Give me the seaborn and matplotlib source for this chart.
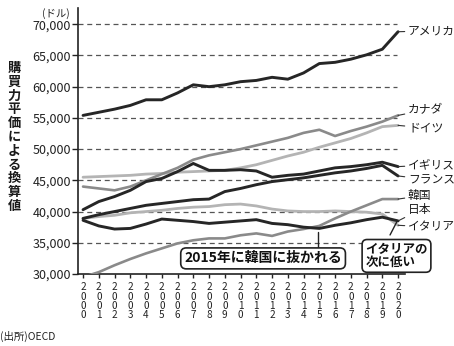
import matplotlib
matplotlib.use("Agg")
import matplotlib.pyplot as plt
import seaborn as sns
import pandas as pd

# Average annual wages, USD at purchasing power parity
years = list(range(2000, 2021))
usa = [55400, 55900, 56400, 57000, 57900, 57900, 59000, 60300, 60000, 60300, 60800,
       61000, 61500, 61200, 62200, 63700, 63900, 64400, 65100, 66000, 68800]
canada = [44000, 43700, 43400, 44000, 45000, 46000, 47000, 48300, 49000, 49500, 50000,
          50600, 51200, 51800, 52600, 53100, 52100, 52900, 53600, 54400, 55400]
germany = [45500, 45600, 45700, 45800, 46000, 46100, 46300, 46400, 46500, 46600, 47000,
           47500, 48200, 48900, 49500, 50300, 51000, 51700, 52600, 53600, 53800]
uk = [40300, 41600, 42400, 43400, 44800, 45300, 46400, 47700, 46600, 46600, 46700,
      46500, 45500, 45800, 46000, 46500, 47000, 47200, 47500, 47900, 47200]
france = [38900, 39500, 40000, 40500, 41000, 41300, 41600, 41900, 42000, 43200, 43700,
          44300, 44800, 45100, 45400, 45800, 46200, 46500, 46900, 47400, 45700]
korea = [29500, 30300, 31400, 32400, 33300, 34100, 34900, 35400, 35700, 35700, 36200,
         36500, 36100, 36800, 37200, 37700, 38900, 40000, 41000, 42000, 42000]
japan = [38600, 37700, 37200, 37300, 38000, 38800, 38600, 38400, 38100, 38300, 38500,
         38700, 38100, 37900, 37500, 37300, 37800, 38200, 38700, 39100, 38500]
italy = [38900, 39200, 39400, 39800, 40000, 40200, 40500, 40700, 40800, 41100, 41200,
         40900, 40400, 40100, 40000, 40000, 40100, 40000, 39900, 39600, 37800]

countries = ["ドイツ", "イタリア", "カナダ", "韓国", "アメリカ", "イギリス", "フランス", "日本"]
series = [germany, italy, canada, korea, usa, uk, france, japan]
label_y = [53400, 37530, 56290, 42500, 68950, 47470, 45070, 40260]

yticks = [30000, 35000, 40000, 45000, 50000, 55000, 60000, 65000, 70000]

DARK, MID, LIGHT = "#262626", "#8a8a8a", "#b4b4b4"
colors = {"ドイツ": LIGHT, "イタリア": LIGHT, "カナダ": MID, "韓国": MID,
          "アメリカ": DARK, "イギリス": DARK, "フランス": DARK, "日本": DARK}
widths = {"ドイツ": 2.0, "イタリア": 2.0, "カナダ": 1.9, "韓国": 1.9,
          "アメリカ": 2.1, "イギリス": 2.1, "フランス": 2.1, "日本": 2.1}

df = pd.DataFrame({
    "year": years * len(countries),
    "value": [v for s in series for v in s],
    "country": [c for c in countries for _ in years],
})

sns.set_theme(style="white")
plt.rcParams["font.family"] = ["Noto Sans CJK JP", "DejaVu Sans"]

W, H = 454, 346
fig = plt.figure(figsize=(W / 100, H / 100), dpi=100)
ax = fig.add_axes([78 / W, 1 - 274 / H, (405 - 78) / W, (274 - 8) / H])

x0, x1 = 1999.68, 2020.44
ax.set_xlim(x0, x1)
ax.set_ylim(30000, 72600)

# dashed reference lines
ax.hlines(yticks[1:], x0, 2019.95, colors="#555555", linestyles=(0, (4, 3)),
          linewidth=0.9, zorder=0)

for c in countries:
    sns.lineplot(data=df[df["country"] == c], x="year", y="value", color=colors[c],
                 linewidth=widths[c], ax=ax, legend=False, zorder=3)

ax.set_xlabel("")
ax.set_ylabel("")
for s in ["top", "right"]:
    ax.spines[s].set_visible(False)
for s in ["left", "bottom"]:
    ax.spines[s].set_color("#222222")
    ax.spines[s].set_linewidth(1.2)

ax.set_yticks(yticks)
ax.set_yticklabels([f"{v:,}" for v in yticks], fontsize=9, color="#222222")
ax.set_xticks(years)
ax.set_xticklabels(["\n".join(str(y)) for y in years], fontsize=7.2,
                   linespacing=0.92, color="#222222")
ax.tick_params(axis="y", direction="out", length=4, width=1, pad=1, left=True,
               colors="#222222")
ax.tick_params(axis="x", direction="out", length=3, width=1, pad=3, bottom=True,
               colors="#222222")

# series names at the right end, with short leader lines
for c, s, ly in zip(countries, series, label_y):
    ax.annotate(c, xy=(years[-1], s[-1]), xytext=(2020.63, ly),
                ha="left", va="center", fontsize=8.5, color="#1a1a1a",
                annotation_clip=False,
                arrowprops=dict(arrowstyle="-", color="#333333", lw=0.8,
                                shrinkA=0, shrinkB=0))

# call-out boxes
box = dict(boxstyle="round,pad=0.25,rounding_size=0.4", fc="white", ec="#222222", lw=1.2)
ax.plot([2014.9, 2014.9], [34300, 36700], color="#222222", lw=1.0, zorder=4)
ax.text(2011.43, 32500, "2015年に韓国に抜かれる", ha="center", va="center",
        fontsize=10, fontweight="bold", color="#111111", bbox=box, zorder=5)
ax.plot([2019.49, 2019.94], [36250, 38450], color="#222222", lw=1.0, zorder=4,
        clip_on=False)
ax.text(2019.9, 32900, "イタリアの\n次に低い", ha="center", va="center",
        multialignment="left", fontsize=9, fontweight="bold", color="#111111",
        linespacing=1.05, bbox=box, zorder=5, clip_on=False)

# axis captions
fig.text(70 / W, 1 - 14 / H, "(ドル)", ha="right", va="center", fontsize=7.5,
         color="#222222")
fig.text(14 / W, 1 - 137 / H, "\n".join("購買力平価による換算値"), ha="center",
         va="center", fontsize=9.5, fontweight="bold", linespacing=0.98,
         color="#1a1a1a")
fig.text(0 / W, 1 - 336 / H, "(出所)OECD", ha="left", va="center", fontsize=7.5,
         color="#222222")

fig.savefig("out.png", dpi=100, facecolor="white")
